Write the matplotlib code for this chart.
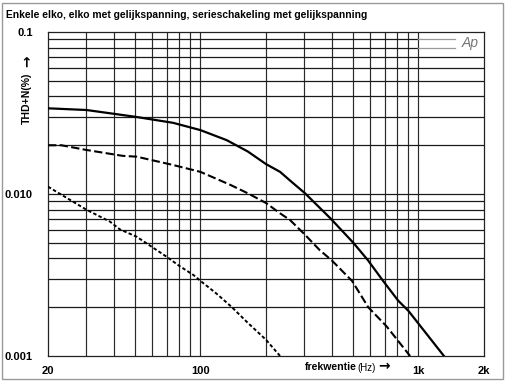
import numpy as np
import matplotlib
matplotlib.use('Agg')
import matplotlib.pyplot as plt
from matplotlib.patches import Rectangle

plt.rcParams['font.family'] = ['Liberation Sans', 'DejaVu Sans']

# curves (frequency in Hz, THD+N in %)
solid_f = [20, 30, 50, 75, 100, 132, 165, 200, 232, 258, 302, 394, 503, 587, 690, 807, 900, 1310]
solid_v = [0.0338, 0.0330, 0.0300, 0.0275, 0.0248, 0.0215, 0.0183, 0.0153, 0.0137, 0.0121,
           0.0101, 0.0071, 0.0050, 0.0039, 0.0029, 0.0022, 0.0019, 0.0010]

dashed_f = [20, 23, 30, 44, 51, 75, 100, 137, 165, 200, 232, 258, 302, 353, 400, 497, 589, 716, 916]
dashed_v = [0.0200, 0.0200, 0.0187, 0.0172, 0.0170, 0.0151, 0.0137, 0.0114, 0.0101, 0.0088,
            0.0076, 0.0069, 0.0056, 0.0045, 0.0039, 0.0029, 0.0020, 0.00152, 0.0010]

dotted_f = [20, 30, 38.5, 42.7, 51, 70, 80, 93, 101, 118, 139, 166, 200, 232]
dotted_v = [0.0111, 0.0080, 0.00675, 0.00605, 0.00545, 0.0041, 0.0036, 0.00316, 0.00288,
            0.00244, 0.00201, 0.00159, 0.00126, 0.0010]

x_ticks = [20, 100, 1000, 2000]
x_labels = ['20', '100', '1k', '2k']
y_ticks = [0.001, 0.01, 0.1]
y_labels = ['0.001', '0.010', '0.1']

title = 'Enkele elko, elko met gelijkspanning, serieschakeling met gelijkspanning'

fig = plt.figure(figsize=(5.06, 3.81), dpi=100)
fig.patch.set_facecolor('white')
ax = fig.add_axes([48 / 506, 1 - 356 / 381, 436 / 506, 324 / 381])
ax.set_xscale('log')
ax.set_yscale('log')
ax.set_xlim(20, 2000)
ax.set_ylim(0.001, 0.1)

# grid: vertical lines only up to 1k
vgrid = list(range(30, 100, 10)) + list(range(100, 1001, 100))
for f in vgrid:
    ax.axvline(f, color='#2a2a2a', lw=0.85, zorder=1)

# horizontal grid, 0.09 and 0.08 stop short before "Ap"
x1k = (np.log10(1000) - np.log10(20)) / 2
xap = (455 - 48) / 436
for dec in [0.001, 0.01]:
    for m in range(2, 10):
        v = dec * m
        if dec == 0.01 and m in (8, 9):
            ax.axhline(v, xmax=x1k, color='#1a1a1a', lw=0.9, zorder=1)
            ax.axhline(v, xmin=x1k, xmax=xap, color='#999999', lw=0.9, zorder=1)
        else:
            ax.axhline(v, color='#1a1a1a', lw=0.9, zorder=1)
ax.axhline(0.01, color='#1a1a1a', lw=0.9, zorder=1)

ax.plot(solid_f, solid_v, color='black', lw=1.6, zorder=3)
ax.plot(dashed_f, dashed_v, color='black', lw=1.5, dashes=(4, 1.6), zorder=3)
ax.plot(dotted_f, dotted_v, color='black', lw=1.4, dashes=(1.8, 1.2), zorder=3)

for s in ax.spines.values():
    s.set_color('#222222')
    s.set_linewidth(0.9)

ax.set_xticks(x_ticks)
ax.set_xticklabels(x_labels, fontsize=8, fontweight='bold')
ax.set_xticks([], minor=True)
ax.set_yticks(y_ticks)
ax.set_yticklabels(y_labels, fontsize=8, fontweight='bold')
ax.set_yticks([], minor=True)
ax.tick_params(length=0, pad=7)
ax.tick_params(axis='y', pad=11)

ax.text(470 / 506, 1 - 43 / 381, 'Ap', transform=fig.transFigure, fontsize=10,
        style='italic', color='#777777', ha='center', va='center')

fig.text(6 / 506, 1 - 15 / 381, title, fontsize=7.4, fontweight='bold',
         ha='left', va='center')

# y axis label with an up arrow above it
fig.text(27 / 506, 1 - 98 / 381, 'THD+N(%)', rotation=90, fontsize=7.6,
         fontweight='bold', ha='center', va='center')
fig.text(27 / 506, 1 - 61 / 381, '\u2192', rotation=90, fontsize=10,
         fontweight='bold', ha='center', va='center', family=['DejaVu Sans'])

# x axis label: frekwentie(Hz) ->
t1 = fig.text(305 / 506, 1 - 367 / 381, 'frekwentie', fontsize=7.6, fontweight='bold',
              ha='left', va='center')
t2 = ax.annotate('(Hz)', xy=(1, 0.5), xycoords=t1, xytext=(0.5, -0.5),
                 textcoords='offset points', fontsize=7, ha='left', va='center')
ax.annotate('\u2192', xy=(1, 0.5), xycoords=t2, xytext=(2, 1),
            textcoords='offset points', fontsize=10, fontweight='bold',
            ha='left', va='center', family=['DejaVu Sans'])

# outer frame round the whole figure
fig.patches.append(Rectangle((2 / 506, 2 / 381), 501 / 506, 376 / 381,
                             transform=fig.transFigure, fill=False,
                             edgecolor='#999999', lw=1.0))

fig.savefig('out.png', dpi=100)
